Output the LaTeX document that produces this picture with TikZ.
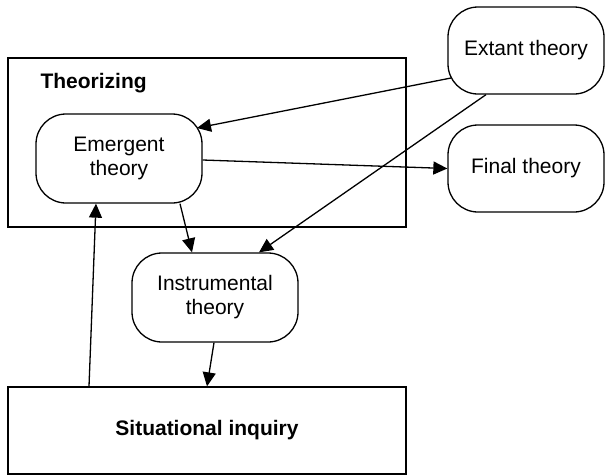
\documentclass[tikz,border=0pt]{standalone}
\usepackage{fontspec}
\setmainfont{Liberation Sans}
\usetikzlibrary{arrows.meta,calc}
\begin{document}
\begin{tikzpicture}[x=1pt,y=-1pt,
  every node/.style={font=\fontsize{21}{24}\selectfont},
  rbox/.style={draw,line width=1.3pt,rounded corners=30pt,align=center,inner sep=0pt},
  sbox/.style={draw,line width=1.3pt,inner sep=0pt},
  conn/.style={line width=1.3pt,-{Triangle[length=14pt,width=13pt]}}]
\useasboundingbox (0,0) rectangle (606,475);
\node[sbox,minimum width=398pt,minimum height=169pt] (th) at (207,142.5) {};
\node[anchor=west,font=\fontsize{21}{24}\selectfont\bfseries] (thl) at (37,83) {Theorizing};
\node[rbox,minimum width=166pt,minimum height=89pt] (em) at (119,158.5) {Emergent\\theory};
\node[rbox,minimum width=156pt,minimum height=87pt] (ext) at (526,50.5) {Extant theory};
\node[rbox,minimum width=156pt,minimum height=87pt] (fin) at (526,168.5) {Final theory};
\node[rbox,minimum width=166pt,minimum height=89pt] (inst) at (215,297.5) {Instrumental\\theory};
\node[sbox,minimum width=398pt,minimum height=87pt,font=\fontsize{21}{24}\selectfont\bfseries] (sit) at (207,430.5) {Situational inquiry};
\draw[conn] ($(ext.center)+(-75,27.5)$) -- ($(em.center)+(78,-30.5)$);
\draw[conn] ([yshift=-1.5pt]em.east) -- (fin.west);
\draw[conn] ([xshift=-40pt]ext.south) -- ([xshift=44pt]inst.north);
\draw[conn] ([xshift=61pt]em.south) -- ([xshift=-23pt]inst.north);
\draw[conn] ([xshift=-1pt]inst.south) -- (sit.north);
\draw[conn] ([xshift=-118pt]sit.north) -- ([xshift=-23pt]em.south);
\end{tikzpicture}
\end{document}
